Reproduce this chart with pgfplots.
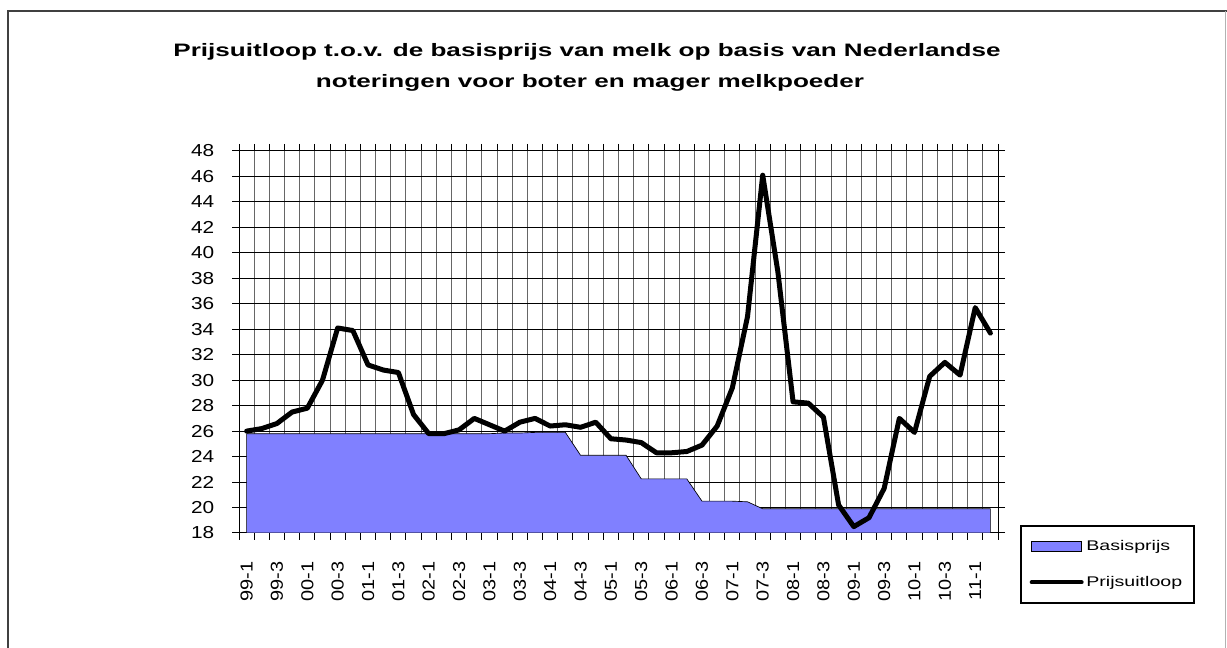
\documentclass[border=0pt]{standalone}
\usepackage{fontspec}
\setmainfont{Liberation Sans}
\newfontfamily\yticksfont[FakeStretch=1.2]{Liberation Sans}
\newfontfamily\xticksfont[FakeStretch=1.15]{Liberation Sans}
\newfontfamily\legfont[FakeStretch=1.4]{Liberation Sans}
\newfontfamily\titlefont[FakeStretch=1.45]{Liberation Sans}
\usepackage{pgfplots}
\pgfplotsset{compat=1.18}
\usepackage{pgfplotstable}
\definecolor{areablue}{RGB}{128,128,255}

\pgfplotsset{
  arealeg/.style={legend image code/.code={\draw[##1, line width=0.5pt] (0pt,-3.75pt) rectangle (37.5pt,3.75pt);}},
  lineleg/.style={legend image code/.code={\draw[##1, line width=3pt, line cap=round] (0pt,0pt) -- (37.5pt,0pt);}},
}

\pgfplotstableread{
idx base price
0 25.8 26.0
1 25.8 26.2
2 25.8 26.6
3 25.8 27.5
4 25.8 27.8
5 25.8 30.0
6 25.8 34.1
7 25.8 33.9
8 25.8 31.2
9 25.8 30.8
10 25.8 30.6
11 25.8 27.3
12 25.8 25.8
13 25.8 25.8
14 25.8 26.1
15 25.8 27.0
16 25.8 26.5
17 25.85 26.0
18 25.85 26.7
19 25.9 27.0
20 25.9 26.4
21 25.9 26.5
22 24.1 26.3
23 24.1 26.7
24 24.1 25.4
25 24.1 25.3
26 22.25 25.1
27 22.25 24.3
28 22.25 24.3
29 22.25 24.4
30 20.5 24.9
31 20.5 26.4
32 20.5 29.4
33 20.45 35.0
34 19.9 46.1
35 19.9 38.5
36 19.9 28.3
37 19.9 28.2
38 19.9 27.1
39 19.9 20.2
40 19.9 18.5
41 19.9 19.2
42 19.9 21.5
43 19.9 27.0
44 19.9 25.9
45 19.9 30.3
46 19.9 31.4
47 19.9 30.4
48 19.9 35.7
49 19.9 33.7
}\datatable

\begin{document}
\begin{tikzpicture}[x=0.75pt,y=0.75pt]
\path[use as bounding box] (0,0) rectangle (1227,648);
\fill[white] (0,0) rectangle (1227,648);
\draw[black!75, line width=1.5pt] (8,0) -- (8,637) -- (1227,637);
\draw[black!30, line width=0.75pt] (1225,637) -- (1225,0);

\node[anchor=base, font=\titlefont\bfseries\fontsize{13.5}{16}\selectfont] at (587,591)
  {Prijsuitloop t.o.v. de basisprijs van melk op basis van Nederlandse};
\node[anchor=base, font=\titlefont\bfseries\fontsize{13.5}{16}\selectfont] at (590,560)
  {noteringen voor boter en mager melkpoeder};

\begin{axis}[
  at={(179.25pt,86.25pt)}, anchor=south west,
  width=569.25pt, height=286.5pt, scale only axis,
  xmin=-0.5, xmax=49.5, ymin=18, ymax=48,
  ytick={18,20,...,48},
  xtick={0,2,...,48},
  xticklabels={99-1,99-3,00-1,00-3,01-1,01-3,02-1,02-3,03-1,03-3,04-1,04-3,05-1,05-3,06-1,06-3,07-1,07-3,08-1,08-3,09-1,09-3,10-1,10-3,11-1},
  minor xtick={-0.5,0.5,...,49.5},
  xminorgrids=true, ymajorgrids=true, xmajorgrids=false,
  major grid style={black, line width=0.75pt},
  minor grid style={black!60, line width=0.75pt},
  tick align=outside,
  major tick length=5.25pt, minor tick length=5.25pt,
  major x tick style={draw=none},
  every tick/.style={black, line width=0.75pt},
  axis line style={black, line width=0.75pt},
  /pgf/number format/assume math mode=true,
  yticklabel shift=9.75pt,
  xticklabel shift=12.75pt,
  y tick label style={font=\yticksfont\fontsize{13}{15}\selectfont},
  x tick label style={rotate=90, anchor=east, font=\xticksfont\fontsize{13}{15}\selectfont},
  legend style={at={(1.029,0.021)}, anchor=north west, draw=black, line width=1.5pt,
    font=\legfont\fontsize{10.5}{12}\selectfont, inner xsep=6.5pt, inner ysep=8.6pt,
    row sep=14pt, cells={anchor=west}},
  legend cell align=left,
]
\addplot[fill=areablue, draw=black, line width=0.5pt, arealeg]
  table[x=idx, y=base]{\datatable} \closedcycle;
\addplot[black, line width=3.75pt, line join=round, line cap=round, lineleg]
  table[x=idx, y=price]{\datatable};
\legend{Basisprijs, Prijsuitloop}
\end{axis}
\end{tikzpicture}
\end{document}
